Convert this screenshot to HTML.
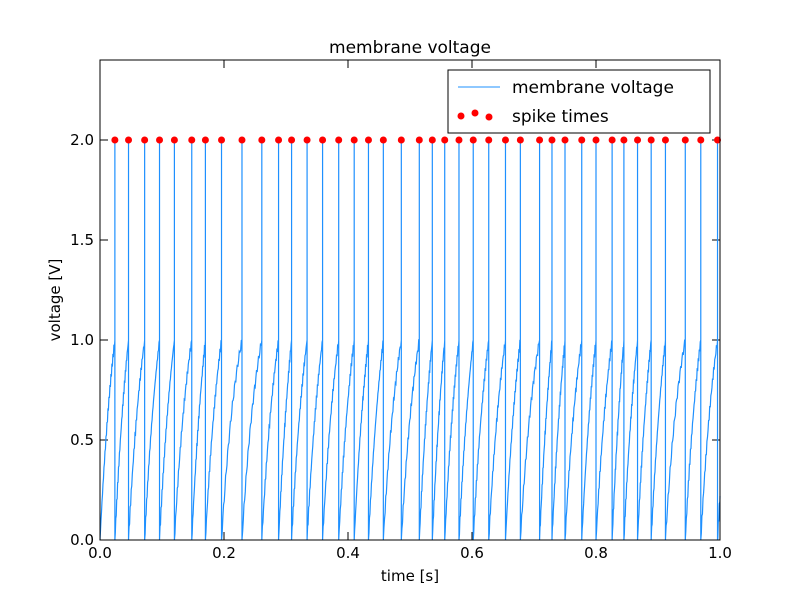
<!DOCTYPE html>
<html><head><meta charset="utf-8"><style>
body{margin:0;background:#fff;}
svg{font-family:"DejaVu Sans","Liberation Sans",sans-serif;}
</style></head><body>
<svg id="chart" width="800" height="600">
<rect width="800" height="600" fill="#fff"/>
<text x="410" y="53" font-size="17" text-anchor="middle">membrane voltage</text>
<g id="plot"></g>
<rect x="100" y="60" width="620" height="480" fill="none" stroke="#000" stroke-width="1"/>
<text x="410" y="581" font-size="15" text-anchor="middle">time [s]</text>
<text transform="translate(60,300) rotate(-90)" font-size="15" text-anchor="middle">voltage [V]</text>
<g>
<rect x="448" y="70" width="262" height="63" fill="#fff" stroke="#000"/>
<line x1="458" y1="87" x2="500" y2="87" stroke="#1e90ff" stroke-width="1"/>
<text x="512" y="93" font-size="17">membrane voltage</text>
<circle cx="461" cy="116" r="3.5" fill="#f00"/>
<circle cx="475" cy="113" r="3.5" fill="#f00"/>
<circle cx="489" cy="117" r="3.5" fill="#f00"/>
<text x="512" y="122" font-size="17">spike times</text>
</g>
</svg>
<script>
const spikeTimes=[0.024,0.046,0.072,0.096,0.120,0.148,0.170,0.196,0.229,0.261,0.288,0.309,0.334,0.359,0.385,0.410,0.433,0.457,0.486,0.515,0.536,0.556,0.579,0.602,0.627,0.654,0.678,0.709,0.729,0.750,0.777,0.800,0.826,0.845,0.867,0.889,0.912,0.944,0.969,0.996];
const spikeVoltage=2.0;
const peakVoltage=1.0;
const xTicks=[0,0.2,0.4,0.6,0.8,1.0];
const xTickLabels=["0.0","0.2","0.4","0.6","0.8","1.0"];
const yTicks=[0,0.5,1.0,1.5,2.0];
const yTickLabels=["0.0","0.5","1.0","1.5","2.0"];
const X=t=>100+t*620;
const Y=v=>540-(v/2.4)*480;
const NS="http://www.w3.org/2000/svg";
const g=document.getElementById('plot');
function mk(tag,attrs){const e=document.createElementNS(NS,tag);for(const k in attrs)e.setAttribute(k,attrs[k]);return e;}
xTicks.forEach((t,i)=>{
 const a=mk('line',{x1:X(t),x2:X(t),y1:540,y2:532,stroke:'#000'});
 
 
 g.appendChild(a);
 const b=mk('line',{x1:X(t),x2:X(t),y1:60,y2:68,stroke:'#000'});
 
 
 g.appendChild(b);
 const l=mk('text',{x:X(t),y:558,'font-size':15,'text-anchor':'middle'});l.textContent=xTickLabels[i];
 
 
 g.appendChild(l);
});
yTicks.forEach((v,i)=>{
 const a=mk('line',{x1:100,x2:108,y1:Y(v),y2:Y(v),stroke:'#000'});
 
 
 g.appendChild(a);
 const b=mk('line',{x1:712,x2:720,y1:Y(v),y2:Y(v),stroke:'#000'});
 
 
 g.appendChild(b);
 const l=mk('text',{x:94,y:Y(v)+5,'font-size':15,'text-anchor':'end'});l.textContent=yTickLabels[i];
 
 
 g.appendChild(l);
});
const tau=0.028;
let pts=[];let prev=0;
const ends=spikeTimes.concat([1.0]);
ends.forEach((ts,k)=>{
 const T=ts-prev;const isSpike=k<spikeTimes.length;
 const norm=isSpike?(1-Math.exp(-T/tau)):(1-Math.exp(-0.026/tau));
 const n=30;
 for(let j=0;j<=n;j++){
  const t=prev+T*j/n;
  let v=peakVoltage*(1-Math.exp(-(t-prev)/tau))/norm;
  v+=0.02*Math.sin(t*4000+k)*(j>0&&j<n?1:0);
  pts.push(X(t).toFixed(2)+','+Y(Math.max(0,v)).toFixed(2));
 }
 if(isSpike){pts.push(X(ts).toFixed(2)+','+Y(spikeVoltage).toFixed(2));pts.push(X(ts).toFixed(2)+','+Y(0).toFixed(2));}
 prev=ts;
});
const pl=mk('polyline',{points:pts.join(' '),fill:'none',stroke:'#1e90ff','stroke-width':1.2});


g.appendChild(pl);
spikeTimes.forEach(t=>{
 const c=mk('circle',{cx:X(t),cy:Y(spikeVoltage),r:3.5,fill:'#f00'});
 
 
 g.appendChild(c);
});
</script>
</body></html>
